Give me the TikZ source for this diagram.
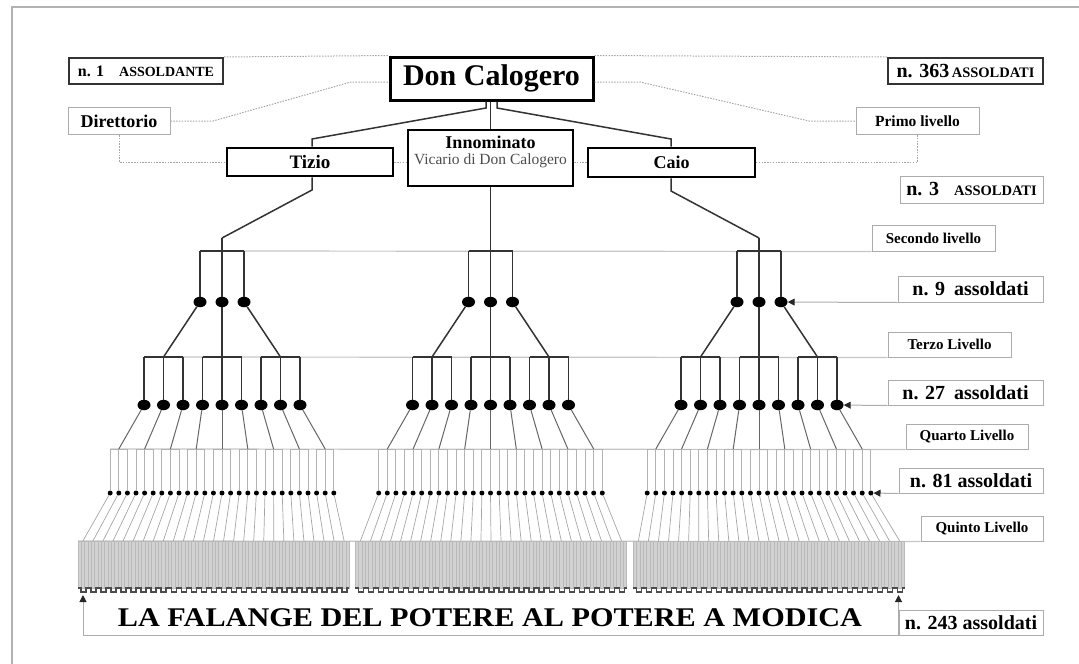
\documentclass[tikz,border=0pt]{standalone}
\usepackage{fontspec}
\usepackage{graphicx}
\setmainfont{Liberation Serif}
\usetikzlibrary{arrows.meta,shapes.geometric,calc}
\newcommand\fsz[1]{\fontsize{#1}{#1}\selectfont}
\pgfdeclarelayer{bg}
\pgfsetlayers{bg,main}
\begin{document}
\begin{tikzpicture}[x=1pt,y=-1pt,
  box/.style={draw, rectangle, inner sep=0pt, align=center, font=\bfseries},
  mainbox/.style={box, line width=2.6pt},
  darkbox/.style={box, draw=black!80, line width=2pt},
  lblbox/.style={box, draw=gray!65, line width=1pt},
  dotcon/.style={draw=gray!70, line width=1pt, dash pattern=on 1.5pt off 1.3pt},
  lvA/.style={draw=black!80, line width=1.5pt},
  lvB/.style={draw=black!60, line width=1pt},
  lvB4/.style={draw=gray!60, line width=1pt},
  lvC/.style={draw=gray!70, line width=0.7pt},
  l5bar/.style={draw=gray!55, fill=gray!35, line width=0.5pt},
  wave/.style={draw=black!70, line width=1.5pt},
  lvline/.style={draw=gray!45, line width=1.2pt},
  bigdot/.style={ellipse, fill=black, inner sep=0pt, minimum width=13pt, minimum height=10.5pt},
  smalldot/.style={circle, fill=black, inner sep=0pt, minimum size=5pt},
  arr/.style={draw=gray!65, line width=1pt, -{Triangle[length=7pt,width=7pt,color=black!85]}},
  frame/.style={draw=gray!60, line width=2.5pt}
]
\useasboundingbox (0,0) rectangle (1079,664);
\draw[frame] (12,664) -- (12,7) -- (1079,7);

% top boxes
\node[mainbox, line width=3pt, minimum width=203pt, minimum height=43pt, font=\bfseries\fsz{30}] (don) at (491.5,78.5) {Don Calogero};
\node[darkbox, minimum width=154pt, minimum height=26pt] (n1) at (146,71) {{\fsz{16}n. 1}\hspace{15pt}{\fsz{14}ASSOLDANTE}};
\node[darkbox, minimum width=155pt, minimum height=26pt] (n363) at (965.5,71) {{\fsz{20}n. 363} {\fsz{14.5}ASSOLDATI}};
\node[lblbox, minimum width=102pt, minimum height=27pt, font=\bfseries\fsz{18}] (dir) at (119,121) {Direttorio};
\node[lblbox, minimum width=123pt, minimum height=27pt, font=\bfseries\fsz{15.5}] (primo) at (917.5,121) {Primo livello};
\node[mainbox, minimum width=166pt, minimum height=28pt, font=\bfseries\fsz{19}] (tizio) at (310,162) {Tizio};
\node[mainbox, minimum width=165pt, minimum height=56pt] (inn) at (490.5,158) {};
\node[align=center, inner sep=0pt, anchor=north] (inntxt) at (490.5,136) {{\bfseries\fsz{18}Innominato}\\[4pt]{\color{black!70}\fsz{15.5}Vicario di Don Calogero}};
\node[mainbox, minimum width=167pt, minimum height=29pt, font=\bfseries\fsz{18}] (caio) at (671.5,162.5) {Caio};
\node[lblbox, minimum width=143pt, minimum height=27pt] (n3) at (971.5,189.5) {{\fsz{20}n. 3}\hspace{15pt}{\fsz{14.5}ASSOLDATI}};

% level labels
\node[lblbox, minimum width=123pt, minimum height=26pt, font=\bfseries\fsz{15}] (sec) at (933.5,238) {Secondo livello};
\node[lblbox, minimum width=145pt, minimum height=26pt, font=\bfseries\fsz{20}] (n9) at (970.5,289) {n. 9\hspace{9pt}assoldati};
\node[lblbox, minimum width=123pt, minimum height=25pt, font=\bfseries\fsz{15}] (terzo) at (949.5,344.5) {Terzo Livello};
\node[lblbox, minimum width=155pt, minimum height=25pt, font=\bfseries\fsz{20}] (n27) at (965.5,392.5) {n. 27\hspace{9pt}assoldati};
\node[lblbox, minimum width=122pt, minimum height=25pt, font=\bfseries\fsz{15}] (quarto) at (967,436.5) {Quarto Livello};
\node[lblbox, minimum width=144pt, minimum height=25pt, font=\bfseries\fsz{20}] (n81) at (971,480.5) {n. 81 assoldati};
\node[lblbox, minimum width=122pt, minimum height=25pt, font=\bfseries\fsz{15}] (quinto) at (982,528.5) {Quinto Livello};
\node[lblbox, minimum width=144pt, minimum height=25pt, font=\bfseries\fsz{20}] (n243) at (971,622.5) {n. 243 assoldati};

% dotted connectors
\draw[dotcon] (n1.north east) -- (don.north west);
\draw[dotcon] (don.north east) -- (n363.north west);
\coordinate (dl1) at (213,121);
\coordinate (dl2) at (351,82);
\draw[dotcon] (dir.east) -- (dl1) -- (dl2) -- (don.west |- dl2);
\coordinate (dr1) at (640,82);
\coordinate (dr2) at (809,121);
\draw[dotcon] (don.east |- dr1) -- (dr1) -- (dr2) -- (primo.west);
\draw[dotcon] (dir.south) |- (tizio.west);
\draw[dotcon] (primo.south) |- (caio.east);
\draw[dotcon] (tizio.east) -- (inn.west |- tizio.east);
\draw[dotcon] (caio.west) -- (inn.east |- caio.west);

% level 1 links
\coordinate (dL) at (486,108);
\coordinate (tL) at (312,139);
\coordinate (dR) at (497,108);
\coordinate (tR) at (671,139);
\draw[lvA] (dL |- don.south) -- (dL) -- (tL) -- (tL |- tizio.north);
\draw[lvA] (dR |- don.south) -- (dR) -- (tR) -- (tR |- caio.north);
\draw[lvA] (don.south -| inn.north) -- (inn.north);

% tree
\foreach \g/\c/\cf in {0/222/213.5,1/490.5/491,2/759/769}{
  \coordinate (k-\g) at (\c,238);
  \foreach \i in {0,1,2}{
    \pgfmathsetmacro\xa{\c+(\i-1)*22}
    \coordinate (t2-\g-\i) at (\xa,251);
    \node[bigdot] (d2-\g-\i) at (\xa,302) {};
  }
  \draw[lvA] (t2-\g-0) -- (t2-\g-2);
  \draw[lvA] (k-\g) -- (d2-\g-1);
  \draw[lvA] (t2-\g-0) -- (d2-\g-0);
  \draw[lvA] (t2-\g-2) -- (d2-\g-2);
  % level 3
  \foreach \i in {0,1,2}{
    \pgfmathsetmacro\xb{\c+(\i-1)*58.5}
    \coordinate (b3-\g-\i) at (\xb,357);
    \draw[lvA] (d2-\g-\i) -- (b3-\g-\i);
    \foreach \j in {0,1,2}{
      \pgfmathsetmacro\xc{\xb+(\j-1)*19.5}
      \coordinate (t3-\g-\i-\j) at (\xc,357);
      \node[bigdot] (d3-\g-\i-\j) at (\xc,405) {};
      \draw[lvA] (t3-\g-\i-\j) -- (d3-\g-\i-\j);
    }
    \draw[lvA] (t3-\g-\i-0) -- (t3-\g-\i-2);
  }
  % level 4
  \foreach \m in {0,...,8}{
    \pgfmathtruncatemacro\ii{floor(\m/3)}
    \pgfmathtruncatemacro\jj{mod(\m,3)}
    \pgfmathsetmacro\xd{\c+(\m-4)*25.8}
    \coordinate (b4-\g-\m) at (\xd,449);
    \foreach \k in {0,1,2}{
      \pgfmathsetmacro\xf{\xd+(\k-1)*8.6}
      \coordinate (t4-\g-\m-\k) at (\xf,449);
      \node[smalldot] (d4-\g-\m-\k) at (\xf,493) {};
      \draw[lvB4] (t4-\g-\m-\k) -- (d4-\g-\m-\k);
    }
    \draw[lvB4] (t4-\g-\m-0) -- (t4-\g-\m-2);
    \draw[lvB] (d3-\g-\ii-\jj) -- (b4-\g-\m);
  }
  % level 5
  \foreach \n in {0,...,26}{
    \pgfmathtruncatemacro\mm{floor(\n/3)}
    \pgfmathtruncatemacro\kk{mod(\n,3)}
    \pgfmathsetmacro\xe{\cf+(\n-13)*10.05}
    \coordinate (b5-\g-\n) at (\xe,541);
    \foreach \q in {-1,0,1}{
      \draw[l5bar] ({\xe+\q*3.35-1.675},541) rectangle ++(3.35,47);
    }
    \draw[lvC] (d4-\g-\mm-\kk) -- (b5-\g-\n);
  }
  \coordinate (w-\g) at (\cf-135.675,588);
  \draw[wave] (w-\g) \foreach \n in {0,...,26}{ -- ++(3,0) -- ++(0,4) -- ++(5,0) -- ++(0,-4) -- ++(2.05,0) };
}

% stems from level 1 to level 2
\coordinate (sT) at (312,190);
\coordinate (sC) at (671,191);
\draw[lvA] (sT |- tizio.south) -- (sT) -- (k-0);
\draw[lvA] (sC |- caio.south) -- (sC) -- (k-2);
\draw[lvA] (inn.south) -- (k-1);

% level lines
\begin{pgfonlayer}{bg}
\draw[lvline] (t2-0-0) -- (sec.south west);
\draw[lvline] (t3-0-0-0) -- (terzo.south west);
\draw[lvline] (t4-0-0-0) -- (quarto.south west);
\draw[lvline] (w-0 |- b5-0-0) -- (quinto.south west);
\end{pgfonlayer}

% arrows
\draw[arr] (n9.south west) -- (d2-2-2);
\draw[arr] (n27.south west) -- (d3-2-2-2);
\draw[arr] (n81.south west) -- (d4-2-8-2);
\coordinate (wl) at (83,595);
\draw[arr] (n243.south west) -| (wl);
\draw[arr] (n243.south west) -- (n243.south west |- wl);

\node[font=\bfseries\fsz{27}, inner sep=0pt] (fal) at (490,617.5) {\resizebox{744pt}{\height}{LA FALANGE DEL POTERE AL POTERE A MODICA}};
\end{tikzpicture}
\end{document}
